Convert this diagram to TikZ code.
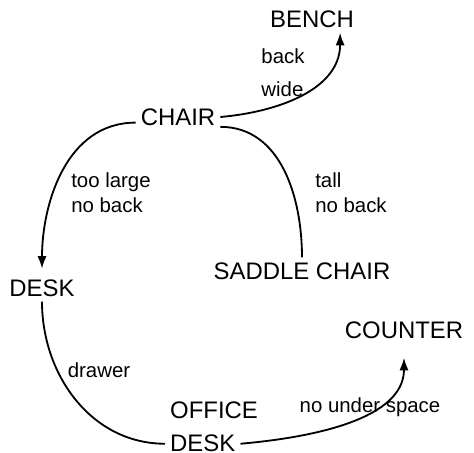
\documentclass[tikz,border=0pt]{standalone}
\usepackage{fontspec}
\setmainfont{Liberation Sans}
\usetikzlibrary{
  positioning,
  arrows.meta
}

\tikzset{
  item/.style={font=\fontsize{17}{20}\selectfont, inner sep=3.5pt},
  note/.style={font=\fontsize{14.5}{17.5}\selectfont, align=left, inner sep=0pt},
  link/.style={line width=1.3pt},
  tip/.style={-{Latex[length=9pt,width=6.5pt]}}
}

\begin{document}
\begin{tikzpicture}[x=0.025cm,y=0.025cm]
  \useasboundingbox (0,0) rectangle (474,453);

  % 家具の名前
  \node[item] (bench) at (312,434) {BENCH};
  \node[item] (chair) at (178,336) {CHAIR};
  \node[item] (saddle) at (302,182) {SADDLE CHAIR};
  \node[item] (desk) at (42,165) {DESK};
  \node[item] (counter) at (404,123) {COUNTER};
  \node[item,anchor=west] (office) at (165,43) {OFFICE};
  \node[item,anchor=west] (offdesk) at ([yshift=-24pt]office.west) {DESK};

  % 条件
  \node[note] (backwide) at (283,380) {back\\[6pt]wide};
  \node[note] (toolarge) at (111,260) {too large\\no back};
  \node[note] (tall) at (351,260) {tall\\no back};
  \node[note] (drawer) at (99,83) {drawer};
  \node[note] (under) at (370,46) {no under space};

  % つながり
  \draw[link,tip] (chair.east) to[out=5,in=-90] ([xshift=20pt]bench.south);
  \draw[link,tip,shorten >=4pt] ([yshift=-4pt]chair.west) to[out=180,in=90] (desk.north);
  \draw[link] ([yshift=-7pt]chair.east) to[out=0,in=90] (saddle.north);
  \draw[link] (desk.south) to[out=-90,in=180] (offdesk.west);
  \draw[link,tip,shorten >=10pt] (offdesk.east) to[out=5,in=-90] (counter.south);
\end{tikzpicture}
\end{document}
